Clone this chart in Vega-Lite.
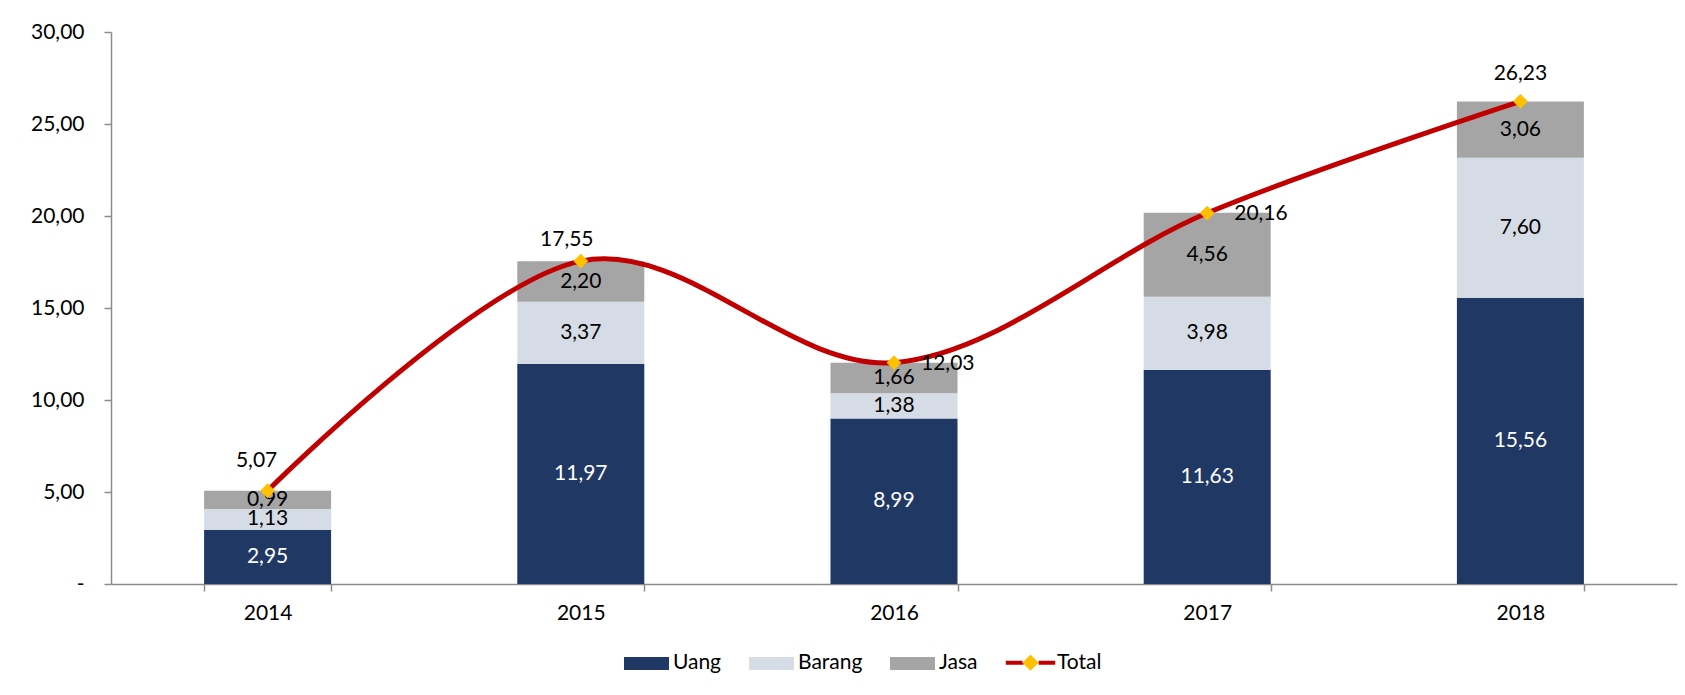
{
  "$schema": "https://vega.github.io/schema/vega-lite/v6.json",
  "width": 1566,
  "height": 552,
  "autosize": {"type": "none"},
  "padding": {"left": 111, "top": 32, "right": 8, "bottom": 111},
  "background": "white",
  "config": {
    "locale": {"number": {"decimal": ",", "thousands": ".", "grouping": [3], "currency": ["Rp", ""]}},
    "view": {"stroke": null},
    "font": "Lato",
    "text": {"font": "Lato", "fontSize": 21}
  },
  "datasets": {
    "komponen": [
      {"tahun": "2014", "komponen": "Uang", "urutan": 1, "nilai": 2.95},
      {"tahun": "2014", "komponen": "Barang", "urutan": 2, "nilai": 1.13},
      {"tahun": "2014", "komponen": "Jasa", "urutan": 3, "nilai": 0.99},
      {"tahun": "2015", "komponen": "Uang", "urutan": 1, "nilai": 11.97},
      {"tahun": "2015", "komponen": "Barang", "urutan": 2, "nilai": 3.37},
      {"tahun": "2015", "komponen": "Jasa", "urutan": 3, "nilai": 2.20},
      {"tahun": "2016", "komponen": "Uang", "urutan": 1, "nilai": 8.99},
      {"tahun": "2016", "komponen": "Barang", "urutan": 2, "nilai": 1.38},
      {"tahun": "2016", "komponen": "Jasa", "urutan": 3, "nilai": 1.66},
      {"tahun": "2017", "komponen": "Uang", "urutan": 1, "nilai": 11.63},
      {"tahun": "2017", "komponen": "Barang", "urutan": 2, "nilai": 3.98},
      {"tahun": "2017", "komponen": "Jasa", "urutan": 3, "nilai": 4.56},
      {"tahun": "2018", "komponen": "Uang", "urutan": 1, "nilai": 15.56},
      {"tahun": "2018", "komponen": "Barang", "urutan": 2, "nilai": 7.60},
      {"tahun": "2018", "komponen": "Jasa", "urutan": 3, "nilai": 3.06}
    ],
    "total": [
      {"tahun": "2014", "total": 5.07},
      {"tahun": "2015", "total": 17.55},
      {"tahun": "2016", "total": 12.03},
      {"tahun": "2017", "total": 20.16},
      {"tahun": "2018", "total": 26.23}
    ]
  },
  "layer": [
    {
      "data": {"name": "komponen"},
      "mark": {"type": "bar", "width": 127},
      "encoding": {
        "x": {
          "field": "tahun", "type": "nominal", "title": null,
          "scale": {"paddingInner": 0.594, "paddingOuter": 0.297},
          "axis": {
            "labelAngle": 0, "labelFontSize": 21, "labelFont": "Lato", "labelColor": "black",
            "domainColor": "#8c8c8c", "tickColor": "#8c8c8c", "domainWidth": 1.5, "tickWidth": 1.5,
            "tickSize": 7, "tickBand": "extent", "labelPadding": 11
          }
        },
        "y": {
          "field": "nilai", "type": "quantitative", "stack": "zero", "title": null,
          "scale": {"domain": [0, 30], "nice": false},
          "axis": {
            "values": [0, 5, 10, 15, 20, 25, 30], "format": ".2f",
            "labelExpr": "datum.value === 0 ? '-\u00a0\u00a0' : datum.label",
            "labelFontSize": 21, "labelFont": "Lato", "labelColor": "black", "labelPadding": 20,
            "tickSize": 7, "grid": false, "domainColor": "#8c8c8c", "tickColor": "#8c8c8c",
            "domainWidth": 1.5, "tickWidth": 1.5
          }
        },
        "color": {
          "field": "komponen", "type": "nominal",
          "scale": {"domain": ["Uang", "Barang", "Jasa", "Total"], "range": ["#203864", "#D6DCE5", "#A5A5A5", "#FFC000"]},
          "legend": {
            "title": null, "orient": "none", "direction": "horizontal", "legendX": 511, "legendY": 606,
            "padding": 0, "labelFontSize": 21, "labelFont": "Lato", "labelColor": "black",
            "symbolSize": 2025, "columnPadding": 19, "labelOffset": 2,
            "encode": {
              "symbols": {
                "update": {
                  "shape": {"signal": "datum.value === 'Total' ? 'M-1.1,0L-0.36,0L0,-0.36L0.36,0L0,0.36L-0.36,0Z M0.36,0H1.1' : 'M-1,-0.29H1V0.29H-1Z'"},
                  "stroke": {"signal": "datum.value === 'Total' ? '#C00000' : 'transparent'"},
                  "strokeWidth": {"value": 4},
                  "strokeDash": {"value": [16.7, 62.4, 16.7, 1000]},
                  "strokeCap": {"value": "butt"},
                  "opacity": {"value": 1},
                  "fillOpacity": {"value": 1}
                }
              }
            }
          }
        },
        "order": {"field": "urutan", "type": "quantitative"}
      }
    },
    {
      "data": {"name": "komponen"},
      "mark": {"type": "text", "fontSize": 21, "font": "Lato"},
      "encoding": {
        "x": {"field": "tahun", "type": "nominal", "title": null},
        "y": {"field": "nilai", "type": "quantitative", "stack": "zero", "bandPosition": 0.5, "title": null},
        "detail": {"field": "komponen"},
        "order": {"field": "urutan", "type": "quantitative"},
        "text": {"field": "nilai", "type": "quantitative", "format": ".2f"},
        "color": {"condition": {"test": "datum.komponen === 'Uang'", "value": "white"}, "value": "black"}
      }
    },
    {
      "data": {"name": "total"},
      "mark": {"type": "line", "interpolate": "cardinal", "strokeWidth": 5, "color": "#C00000"},
      "encoding": {
        "x": {"field": "tahun", "type": "nominal", "title": null},
        "y": {"field": "total", "type": "quantitative", "title": null}
      }
    },
    {
      "data": {"name": "total"},
      "mark": {"type": "point", "shape": "diamond", "size": 220, "filled": true, "color": "#FFC000", "opacity": 1},
      "encoding": {
        "x": {"field": "tahun", "type": "nominal", "title": null},
        "y": {"field": "total", "type": "quantitative", "title": null}
      }
    },
    {
      "data": {"name": "total"},
      "transform": [{"filter": "datum.tahun === '2014'"}],
      "mark": {"type": "text", "fontSize": 21, "font": "Lato", "color": "black", "dx": -11, "dy": -30},
      "encoding": {
        "x": {"field": "tahun", "type": "nominal", "title": null},
        "y": {"field": "total", "type": "quantitative", "title": null},
        "text": {"field": "total", "type": "quantitative", "format": ".2f"}
      }
    },
    {
      "data": {"name": "total"},
      "transform": [{"filter": "datum.tahun === '2015'"}],
      "mark": {"type": "text", "fontSize": 21, "font": "Lato", "color": "black", "dx": -14, "dy": -21},
      "encoding": {
        "x": {"field": "tahun", "type": "nominal", "title": null},
        "y": {"field": "total", "type": "quantitative", "title": null},
        "text": {"field": "total", "type": "quantitative", "format": ".2f"}
      }
    },
    {
      "data": {"name": "total"},
      "transform": [{"filter": "datum.tahun === '2018'"}],
      "mark": {"type": "text", "fontSize": 21, "font": "Lato", "color": "black", "dx": 0, "dy": -27},
      "encoding": {
        "x": {"field": "tahun", "type": "nominal", "title": null},
        "y": {"field": "total", "type": "quantitative", "title": null},
        "text": {"field": "total", "type": "quantitative", "format": ".2f"}
      }
    },
    {
      "data": {"name": "total"},
      "transform": [{"filter": "datum.tahun === '2016' || datum.tahun === '2017'"}],
      "mark": {"type": "text", "fontSize": 21, "font": "Lato", "color": "black", "align": "left", "dx": 27, "dy": 1},
      "encoding": {
        "x": {"field": "tahun", "type": "nominal", "title": null},
        "y": {"field": "total", "type": "quantitative", "title": null},
        "text": {"field": "total", "type": "quantitative", "format": ".2f"}
      }
    }
  ]
}
